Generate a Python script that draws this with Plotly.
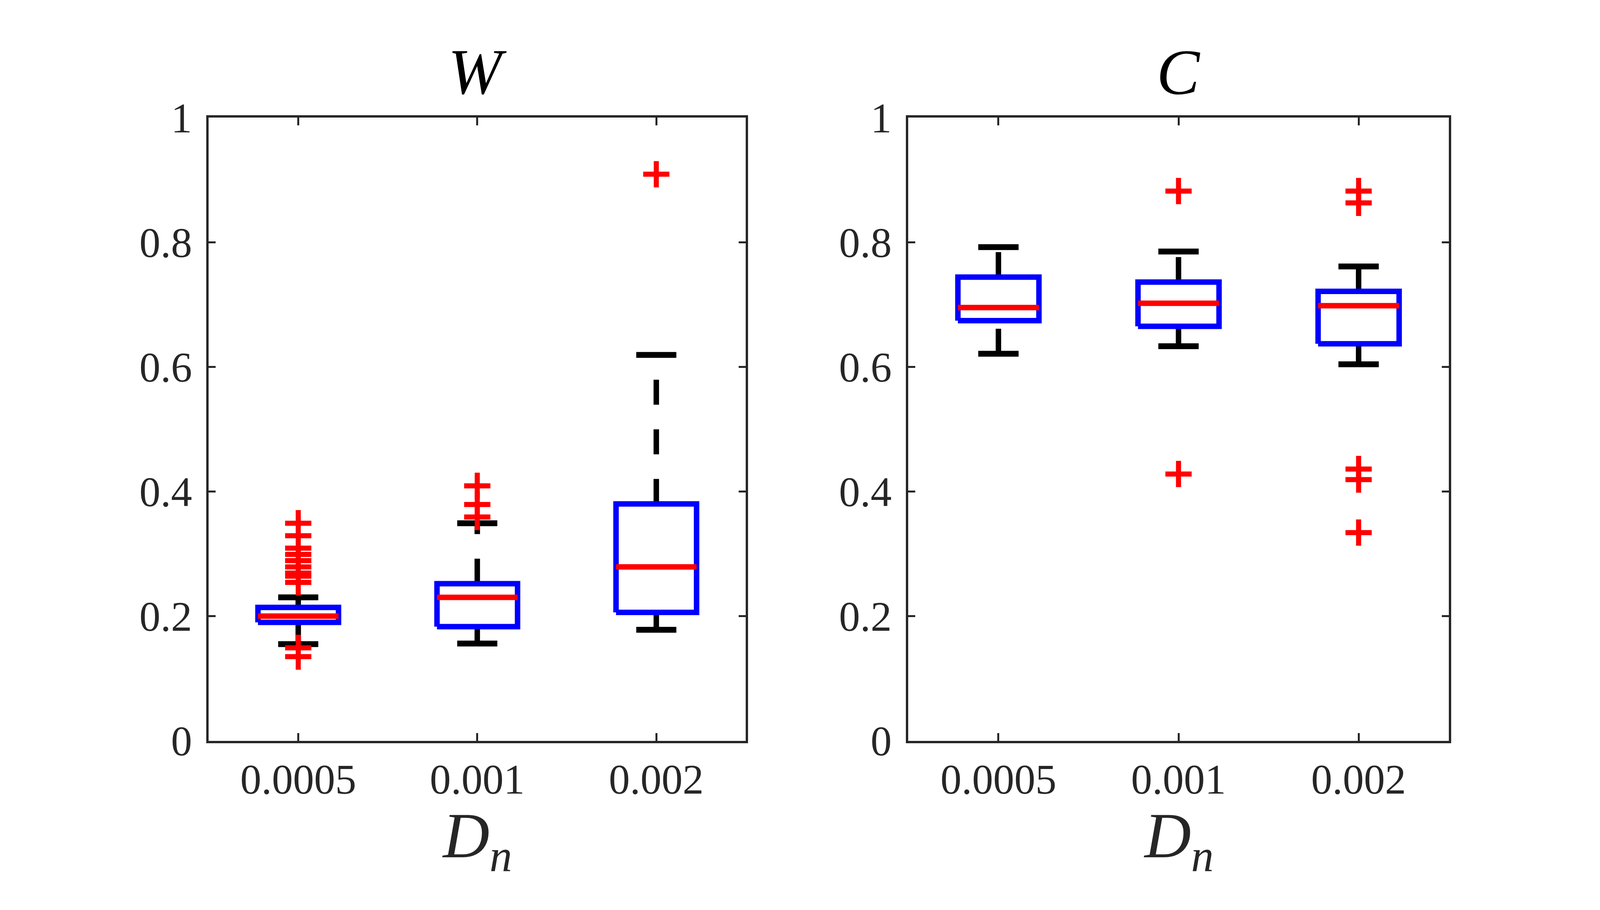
import plotly.graph_objects as go

# categories (D_n values)
groups = ["0.0005", "0.001", "0.002"]
pos = [1, 2, 3]

# W panel: box statistics
w_q1 = [0.190, 0.183, 0.206]
w_med = [0.200, 0.230, 0.279]
w_q3 = [0.214, 0.252, 0.380]
w_lo = [0.155, 0.156, 0.178]
w_hi = [0.230, 0.349, 0.619]
w_out = [[0.349, 0.329, 0.309, 0.299, 0.289, 0.279, 0.269, 0.264, 0.254, 0.149, 0.135],
         [0.409, 0.379, 0.359],
         [0.909]]

# C panel
c_q1 = [0.674, 0.665, 0.637]
c_med = [0.695, 0.702, 0.698]
c_q3 = [0.744, 0.736, 0.721]
c_lo = [0.621, 0.633, 0.604]
c_hi = [0.792, 0.785, 0.761]
c_out = [[],
         [0.882, 0.428],
         [0.882, 0.863, 0.436, 0.419, 0.334]]

FONT = "Liberation Serif"
AX = "#262626"
HW, CW = 0.225, 0.112   # box / cap half widths in category units

# the browser window is 4096 px wide, so the page is drawn to fit it
W, H = 4080, 2314


def add_panel(fig, xa, ya, q1, med, q3, lo, hi, outs):
    for i, p in enumerate(pos):
        # dashed whiskers: upper one starts at the box, lower one at the cap
        for ys in ([q3[i], hi[i]], [lo[i], q1[i]]):
            fig.add_trace(go.Scatter(x=[p, p], y=ys, mode="lines", xaxis=xa, yaxis=ya,
                                     line=dict(color="black", width=14, dash="64px,63px"),
                                     showlegend=False, hoverinfo="skip"))
        # caps
        fig.add_trace(go.Scatter(x=[p - CW, p + CW, None, p - CW, p + CW],
                                 y=[hi[i], hi[i], None, lo[i], lo[i]],
                                 mode="lines", xaxis=xa, yaxis=ya,
                                 line=dict(color="black", width=15),
                                 showlegend=False, hoverinfo="skip"))
        # box
        fig.add_trace(go.Scatter(x=[p - HW, p + HW, p + HW, p - HW, p - HW],
                                 y=[q1[i], q1[i], q3[i], q3[i], q1[i]],
                                 mode="lines", xaxis=xa, yaxis=ya,
                                 line=dict(color="#0000FF", width=14),
                                 showlegend=False, hoverinfo="skip"))
        # median
        fig.add_trace(go.Scatter(x=[p - HW, p + HW], y=[med[i], med[i]],
                                 mode="lines", xaxis=xa, yaxis=ya,
                                 line=dict(color="#FF0000", width=14),
                                 showlegend=False, hoverinfo="skip"))
        # outliers
        if outs[i]:
            fig.add_trace(go.Scatter(x=[p] * len(outs[i]), y=outs[i], mode="markers",
                                     xaxis=xa, yaxis=ya,
                                     marker=dict(symbol="cross-thin", size=48, color="#FF0000",
                                                 line=dict(color="#FF0000", width=13)),
                                     showlegend=False, hoverinfo="skip"))


fig = go.Figure()
add_panel(fig, "x", "y", w_q1, w_med, w_q3, w_lo, w_hi, w_out)
add_panel(fig, "x2", "y2", c_q1, c_med, c_q3, c_lo, c_hi, c_out)

xax = dict(range=[0.5, 3.5], tickvals=pos, ticktext=groups, ticks="inside", ticklen=20,
           tickwidth=5, tickcolor=AX, showline=True, linecolor=AX, linewidth=6, mirror="ticks",
           showgrid=False, zeroline=False, ticklabelstandoff=0,
           tickfont=dict(family=FONT, size=108, color=AX))
yax = dict(range=[0, 1], tickvals=[0, 0.2, 0.4, 0.6, 0.8, 1], ticks="inside", ticklen=18,
           tickwidth=5, tickcolor=AX, showline=True, linecolor=AX, linewidth=6, mirror="ticks",
           showgrid=False, zeroline=False, ticklabelstandoff=15,
           tickfont=dict(family=FONT, size=108, color=AX))

fig.update_layout(
    width=W, height=H, margin=dict(l=0, r=0, t=0, b=0),
    paper_bgcolor="white", plot_bgcolor="white",
    xaxis=dict(xax, domain=[0.129, 0.466]),
    yaxis=dict(yax, domain=[0.166, 0.893], anchor="x"),
    xaxis2=dict(xax, domain=[0.568, 0.907], anchor="y2"),
    yaxis2=dict(yax, domain=[0.166, 0.893], anchor="x2"),
)

for xa, t in [("x", "W"), ("x2", "C")]:
    fig.add_annotation(text=t, xref=f"{xa} domain", x=0.5, yref="paper", y=0.946,
                       yanchor="middle", showarrow=False,
                       font=dict(family=FONT, size=165, color="black", style="italic"))
    fig.add_annotation(text="D<sub>n</sub>", xref=f"{xa} domain", x=0.5, yref="paper",
                       y=0.050, yanchor="middle", showarrow=False,
                       font=dict(family=FONT, size=165, color=AX, style="italic"))

fig.write_html("out.html")
